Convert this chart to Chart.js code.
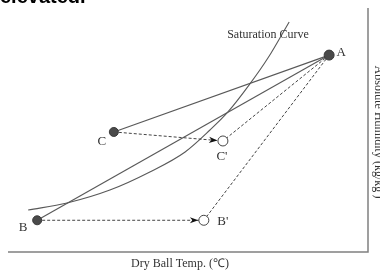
<!DOCTYPE html>
<html lang="en">
<head>
  <meta charset="UTF-8" />
  <title>Saturation Curve</title>
  <script src="https://cdn.jsdelivr.net/npm/chart.js"></script>
  <style>
    body {
      margin: 0;
      padding: 0;
      background: #ffffff;
    }
    #wrap {
      width: 380px;
      height: 271px;
    }
  </style>
</head>
<body>
  <div id="wrap">
    <canvas id="chart" width="380" height="271"></canvas>
  </div>

  <script>
    // saturation curve (temp, humidity) in arbitrary units 0-100
    const curveX = [5.6, 16.4, 28.3, 39.4, 49.2, 56.1, 61.1, 67.2, 72.2, 78.1];
    const curveY = [17.2, 20.1, 25.4, 32.8, 41.0, 50.0, 57.4, 68.9, 79.5, 94.3];

    // state points
    const pointNames = ['A', 'B', 'C', "C'", "B'"];
    const pointX = [89.2, 8.1, 29.4, 59.7, 54.4];
    const pointY = [80.7, 13.0, 49.2, 45.5, 13.0];

    const xTitle = 'Dry Ball Temp. (℃)';
    const yTitle = "Absolute Humidity (kg/kg')";
    const curveLabel = 'Saturation Curve';

    const pt = i => ({ x: pointX[i], y: pointY[i] });
    const A = 0, B = 1, C = 2, C2 = 3, B2 = 4;

    const lineColor = '#595959';
    const serif = '"Liberation Serif", "Times New Roman", serif';

    const lineSet = (from, to, dashed, order) => ({
      data: [pt(from), pt(to)],
      showLine: true,
      borderColor: dashed ? '#444' : lineColor,
      borderWidth: dashed ? 1 : 1.2,
      borderDash: dashed ? [3, 2] : [],
      pointRadius: 0,
      order: order
    });

    const decorations = {
      id: 'decorations',
      afterDatasetsDraw(chart) {
        const ctx = chart.ctx;
        const area = chart.chartArea;
        const xs = chart.scales.x;
        const ys = chart.scales.y;

        // frame: bottom axis and right axis
        ctx.save();
        ctx.strokeStyle = '#808080';
        ctx.lineWidth = 1.5;
        ctx.beginPath();
        ctx.moveTo(area.left, area.bottom);
        ctx.lineTo(area.right, area.bottom);
        ctx.lineTo(area.right, area.top);
        ctx.stroke();

        // arrow heads on the dashed moves
        [[C, C2], [B, B2]].forEach(([from, to]) => {
          const x0 = xs.getPixelForValue(pointX[from]);
          const y0 = ys.getPixelForValue(pointY[from]);
          const x1 = xs.getPixelForValue(pointX[to]);
          const y1 = ys.getPixelForValue(pointY[to]);
          const ang = Math.atan2(y1 - y0, x1 - x0);
          const tipX = x1 - Math.cos(ang) * 5.5;
          const tipY = y1 - Math.sin(ang) * 5.5;
          ctx.fillStyle = '#111';
          ctx.beginPath();
          ctx.moveTo(tipX, tipY);
          ctx.lineTo(tipX - Math.cos(ang - 0.35) * 9, tipY - Math.sin(ang - 0.35) * 9);
          ctx.lineTo(tipX - Math.cos(ang) * 6, tipY - Math.sin(ang) * 6);
          ctx.lineTo(tipX - Math.cos(ang + 0.35) * 9, tipY - Math.sin(ang + 0.35) * 9);
          ctx.closePath();
          ctx.fill();
        });

        // point labels
        const offsets = [[12, -3], [-14, 7], [-12, 10], [-1, 16], [19, 1]];
        ctx.fillStyle = '#333';
        ctx.font = '13px ' + serif;
        ctx.textAlign = 'center';
        ctx.textBaseline = 'middle';
        pointNames.forEach((name, i) => {
          const px = xs.getPixelForValue(pointX[i]) + offsets[i][0];
          const py = ys.getPixelForValue(pointY[i]) + offsets[i][1];
          ctx.fillText(name, px, py);
        });

        // curve label
        ctx.font = '12px ' + serif;
        ctx.fillText(curveLabel, 268, 35);

        // axis titles
        ctx.fillText(xTitle, 180, 264);
        ctx.save();
        ctx.translate(378, 132);
        ctx.rotate(Math.PI / 2);
        ctx.fillText(yTitle, 0, 0);
        ctx.restore();

        // cut off caption text from above
        ctx.fillStyle = '#000';
        ctx.font = 'bold 20px "Liberation Sans", Arial, sans-serif';
        ctx.textAlign = 'left';
        ctx.textBaseline = 'alphabetic';
        ctx.fillText('elevated.', 0, 3);
        ctx.restore();
      }
    };

    new Chart(document.getElementById('chart'), {
      type: 'scatter',
      data: {
        datasets: [
          {
            data: [pt(A), pt(B), pt(C)],
            backgroundColor: '#4a4a4a',
            borderColor: '#3a3a3a',
            borderWidth: 1,
            pointRadius: [5, 4.5, 4.5],
            order: 0
          },
          {
            data: [pt(C2), pt(B2)],
            backgroundColor: '#ffffff',
            borderColor: '#444',
            borderWidth: 1,
            pointRadius: 5,
            order: 1
          },
          {
            data: curveX.map((x, i) => ({ x: x, y: curveY[i] })),
            showLine: true,
            borderColor: lineColor,
            borderWidth: 1.1,
            cubicInterpolationMode: 'monotone',
            pointRadius: 0,
            order: 5
          },
          lineSet(A, C, false, 4),
          lineSet(A, B, false, 4),
          lineSet(A, C2, true, 3),
          lineSet(A, B2, true, 3),
          lineSet(C, C2, true, 2),
          lineSet(B, B2, true, 2)
        ]
      },
      options: {
        responsive: false,
        devicePixelRatio: 1,
        animation: false,
        layout: {
          padding: { left: 8, top: 8, right: 12, bottom: 19 }
        },
        plugins: {
          legend: { display: false },
          tooltip: { enabled: false }
        },
        scales: {
          x: { type: 'linear', min: 0, max: 100, display: false },
          y: { type: 'linear', min: 0, max: 100, display: false }
        }
      },
      plugins: [decorations]
    });
  </script>
</body>
</html>
